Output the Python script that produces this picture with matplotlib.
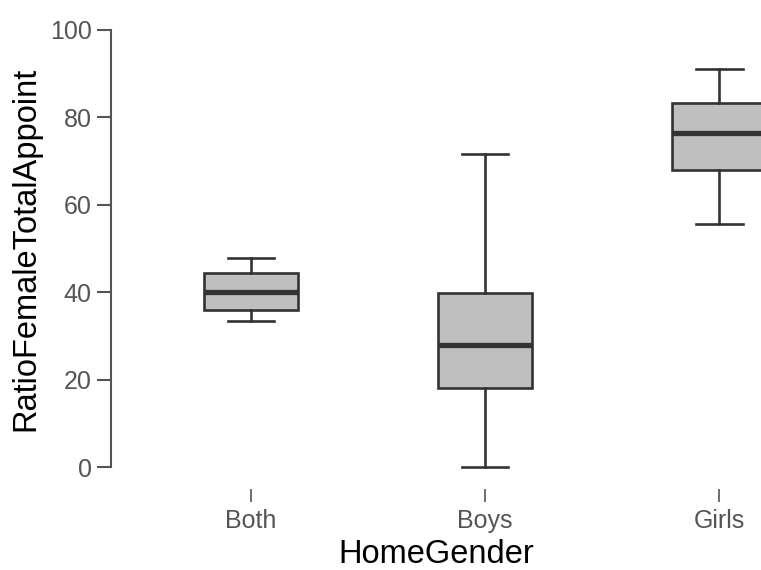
import numpy as np
import matplotlib.pyplot as plt

plt.rcParams["font.family"] = ["Liberation Sans", "DejaVu Sans"]

# -----------------------------
# DATA (five-number summaries per group)
# -----------------------------
groups = ["Both", "Boys", "Girls"]
whisker_low = [33.4, 0.0, 55.6]
q1 = [35.9, 18.1, 68.0]
median = [40.0, 27.9, 76.4]
q3 = [44.4, 39.8, 83.3]
whisker_high = [47.8, 71.6, 91.1]

yticks = [0, 20, 40, 60, 80, 100]

stats = []
for i, g in enumerate(groups):
    stats.append({
        "label": g,
        "whislo": whisker_low[i],
        "q1": q1[i],
        "med": median[i],
        "q3": q3[i],
        "whishi": whisker_high[i],
        "fliers": [],
    })

# -----------------------------
# FIGURE
# -----------------------------
fig = plt.figure(figsize=(7.61, 5.70), dpi=100)
ax = fig.add_axes([0.1459, 0.1807, 0.8541, 0.7667])

line_col = "#333333"
bp = ax.bxp(
    stats,
    positions=[1, 2, 3],
    widths=0.40,
    capwidths=0.20,
    patch_artist=True,
    showfliers=False,
    boxprops=dict(facecolor="#bfbfbf", edgecolor=line_col, linewidth=1.9),
    medianprops=dict(color=line_col, linewidth=3.8, solid_capstyle="butt"),
    whiskerprops=dict(color=line_col, linewidth=1.9),
    capprops=dict(color=line_col, linewidth=1.9),
)
# keep caps at the axis limits fully visible
for key in ["caps", "whiskers"]:
    for art in bp[key]:
        art.set_clip_on(False)

ax.set_xlim(0.402, 3.179)
ax.set_ylim(0, 100)
ax.set_yticks(yticks)

# axis styling
for side in ["top", "right"]:
    ax.spines[side].set_visible(False)
ax.spines["left"].set_color("#555555")
ax.spines["left"].set_linewidth(1.5)
ax.spines["bottom"].set_position(("outward", 16))
ax.spines["bottom"].set_visible(False)

ax.tick_params(axis="y", length=10, width=1.5, color="#555555",
               labelsize=18, labelcolor="#555555", pad=4)
ax.tick_params(axis="x", length=9.5, width=1.2, color="#555555",
               labelsize=18, labelcolor="#555555", pad=5)

ax.set_xlabel("HomeGender", fontsize=23.5, color="black", labelpad=4)
ax.set_ylabel("RatioFemaleTotalAppoint", fontsize=23.5, color="black", labelpad=6)

fig.savefig("out.png", dpi=100)
plt.close(fig)
